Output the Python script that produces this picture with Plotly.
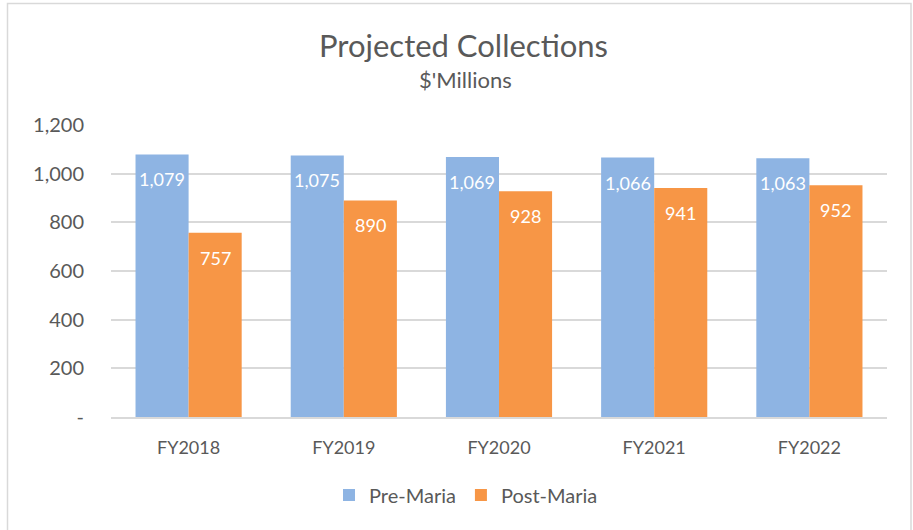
import plotly.graph_objects as go

categories = ["FY2018", "FY2019", "FY2020", "FY2021", "FY2022"]
pre_maria = [1079, 1075, 1069, 1066, 1063]
post_maria = [757, 890, 928, 941, 952]
y_ticks = [0, 200, 400, 600, 800, 1000, 1200]
y_tick_labels = ["-", "200", "400", "600", "800", "1,000", "1,200"]

BLUE = "#8EB4E3"
ORANGE = "#F79646"
TXT = "#595959"
FONT = "Lato"

W, H = 913, 530
L, R, T, B = 111, 26, 125, 113
pw, ph = W - L - R, H - T - B

def px_x(x):
    return (x - L) / pw

def px_y(y):
    return (H - B - y) / ph

fig = go.Figure()
fig.add_bar(name="Pre-Maria", x=categories, y=pre_maria, marker_color=BLUE,
            marker_line_width=0)
fig.add_bar(name="Post-Maria", x=categories, y=post_maria, marker_color=ORANGE,
            marker_line_width=0)

bargap = 0.316
off = (1 - bargap) / 4
annotations = []
for i, (a, b) in enumerate(zip(pre_maria, post_maria)):
    for xv, v in ((i - off, a), (i + off, b)):
        annotations.append(dict(x=xv, y=v, xref="x", yref="y", text=f"{v:,}",
                                showarrow=False, yshift=-25,
                                font=dict(family=FONT, size=18, color="white")))

annotations.append(dict(x=px_x(463), y=px_y(45), xref="paper", yref="paper",
                        xanchor="center", yanchor="middle",
                        text="Projected Collections", showarrow=False,
                        font=dict(family=FONT, size=31, color=TXT)))
annotations.append(dict(x=px_x(465), y=px_y(80), xref="paper", yref="paper",
                        xanchor="center", yanchor="middle",
                        text="$'Millions", showarrow=False,
                        font=dict(family=FONT, size=22, color=TXT)))

fig.update_layout(
    width=W, height=H,
    margin=dict(l=L, r=R, t=T, b=B),
    paper_bgcolor="white", plot_bgcolor="white",
    barmode="group", bargap=bargap, bargroupgap=0,
    annotations=annotations,
    showlegend=True,
    legend=dict(orientation="h", x=px_x(466), xanchor="center",
                y=px_y(495), yanchor="middle",
                font=dict(family=FONT, size=20, color=TXT),
                itemwidth=30, traceorder="normal"),
    xaxis=dict(showgrid=False, ticks="outside", ticklen=14, tickcolor="rgba(0,0,0,0)",
               tickfont=dict(family=FONT, size=18, color=TXT),
               showline=True, linecolor="#D9D9D9", linewidth=1.5),
    yaxis=dict(range=[0, 1200], tickvals=y_ticks, ticktext=y_tick_labels,
               showgrid=True, gridcolor="#D9D9D9", gridwidth=1.5,
               zeroline=False, ticks="outside", ticklen=22,
               tickcolor="rgba(0,0,0,0)",
               tickfont=dict(family=FONT, size=20, color=TXT)),
    shapes=[dict(type="rect", xref="paper", yref="paper",
                 x0=px_x(7.5), x1=px_x(911), y0=px_y(531), y1=px_y(3.5),
                 line=dict(color="#D9D9D9", width=1.5), layer="below")],
    font=dict(family=FONT, color=TXT),
)

fig.write_html("out.html", config={"displayModeBar": False},
               post_script="document.body.style.margin='0';document.body.style.padding='0';")
